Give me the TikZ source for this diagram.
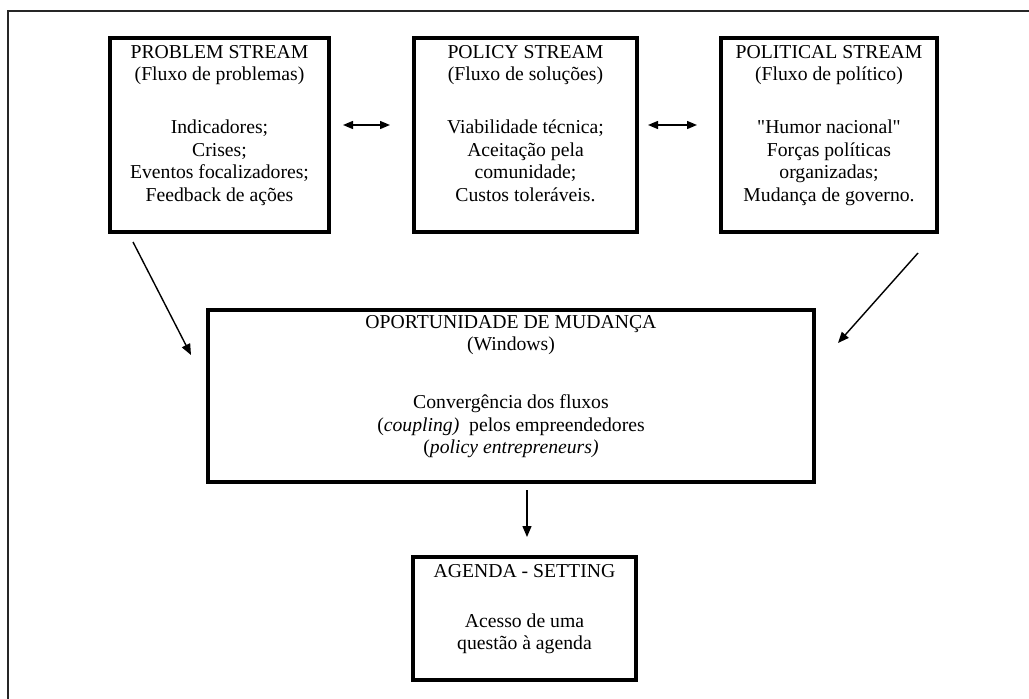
\documentclass[tikz,border=0pt]{standalone}
\usepackage{fontspec}
\setmainfont{Liberation Serif}[Ligatures=TeXOff]
\usetikzlibrary{arrows.meta}
\newcommand\mybx[3]{\parbox[c][#2pt][t]{#1pt}{\centering #3}}
\begin{document}
\begin{tikzpicture}[x=1pt,y=-1pt,
  box/.style={draw,line width=4pt,inner sep=0pt,outer sep=0pt},
  arr/.style={line width=1.4pt,-{Triangle[length=11pt,width=9pt]}},
  darr/.style={line width=1.4pt,{Triangle[length=10pt,width=8pt]}-{Triangle[length=10pt,width=8pt]}},
  font=\fontsize{19.7}{22.5}\selectfont]
\useasboundingbox (0,0) rectangle (1029,699);
\draw[line width=1.6pt, black!85] (8,699) -- (8,11) -- (1029,11);

\node[box] (p) at (219.5,135) {\mybx{219}{194}{\rule{0pt}{20pt}PROBLEM STREAM\\(Fluxo de problemas)\\[30.5pt]Indicadores;\\Crises;\\Eventos focalizadores;\\Feedback de ações}};
\node[box] (q) at (525.5,135) {\mybx{223}{194}{\rule{0pt}{20pt}POLICY STREAM\\(Fluxo de soluções)\\[30.5pt]Viabilidade técnica;\\Aceitação pela\\comunidade;\\Custos toleráveis.}};
\node[box] (r) at (829,135) {\mybx{216}{194}{\rule{0pt}{20pt}POLITICAL STREAM\\(Fluxo de político)\\[30.5pt]"Humor nacional"\\Forças políticas\\organizadas;\\Mudança de governo.}};
\node[box] (m) at (511,396) {\mybx{606}{172}{\rule{0pt}{18pt}OPORTUNIDADE DE MUDANÇA\\(Windows)\\[35.5pt]Convergência dos fluxos\\(\textit{coupling)}\ \ pelos empreendedores\\(\textit{policy entrepreneurs)}}};
\node[box] (a) at (524.5,618.5) {\mybx{223}{123}{\rule{0pt}{20pt}AGENDA - SETTING\\[27.5pt]Acesso de uma\\questão à agenda}};

\draw[darr] ([shift={(14pt,10pt)}]p.east) -- ([shift={(-24pt,10pt)}]q.west);
\draw[darr] ([shift={(11pt,10pt)}]q.east) -- ([shift={(-24pt,10pt)}]r.west);
\draw[arr] ([shift={(23pt,-10pt)}]p.south west) -- ([shift={(-17pt,-45pt)}]m.north west);
\draw[arr] ([shift={(-19pt,-21pt)}]r.south east) -- ([shift={(24pt,-33pt)}]m.north east);
\draw[arr] ([shift={(16pt,-8pt)}]m.south) -- ([shift={(2.5pt,20pt)}]a.north);
\end{tikzpicture}
\end{document}
